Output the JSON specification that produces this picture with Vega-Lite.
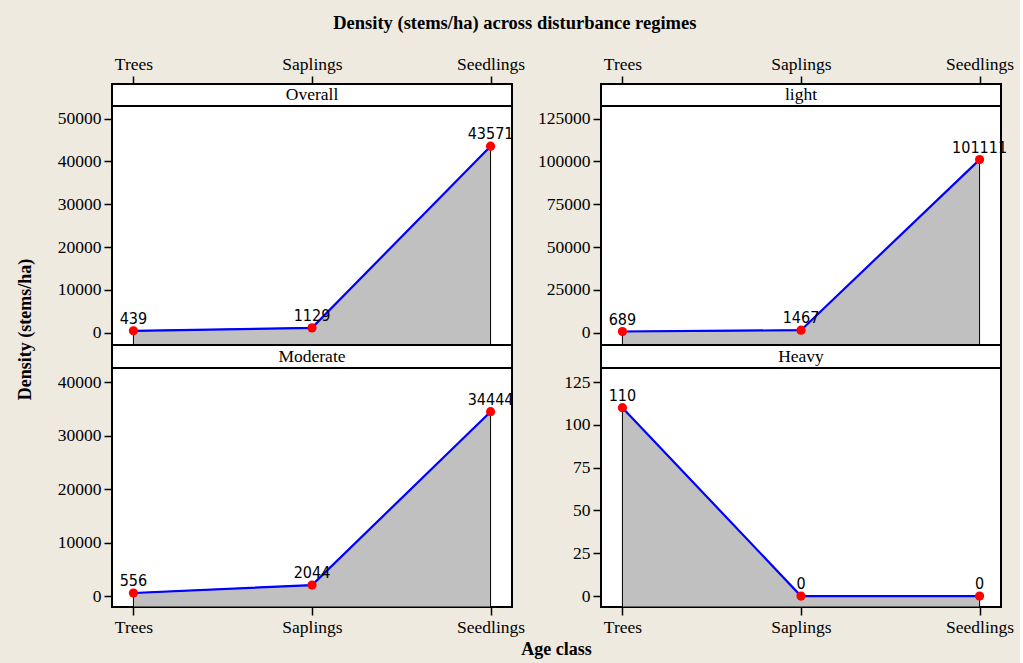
{
  "$schema": "https://vega.github.io/schema/vega-lite/v6.json",
  "background": "#eeeae0",
  "padding": {"left": 15, "top": 13, "right": 5, "bottom": 5},
  "title": {"text": "Density (stems/ha) across disturbance regimes", "font": "Liberation Serif", "fontSize": 18.5, "fontWeight": "bold", "color": "black", "anchor": "middle", "offset": 22},
  "data": {"values": [
    {"panel": "Overall", "age": "Trees", "density": 439},
    {"panel": "Overall", "age": "Saplings", "density": 1129},
    {"panel": "Overall", "age": "Seedlings", "density": 43571},
    {"panel": "light", "age": "Trees", "density": 689},
    {"panel": "light", "age": "Saplings", "density": 1467},
    {"panel": "light", "age": "Seedlings", "density": 101111},
    {"panel": "Moderate", "age": "Trees", "density": 556},
    {"panel": "Moderate", "age": "Saplings", "density": 2044},
    {"panel": "Moderate", "age": "Seedlings", "density": 34444},
    {"panel": "Heavy", "age": "Trees", "density": 110},
    {"panel": "Heavy", "age": "Saplings", "density": 0},
    {"panel": "Heavy", "age": "Seedlings", "density": 0}
  ]},
  "columns": 2,
  "bounds": "flush",
  "spacing": {"row": 0, "column": 89},
  "concat": [
    {
      "width": 400, "height": 22,
      "transform": [{"filter": "datum.panel == 'Overall' && datum.age == 'Saplings'"}],
      "mark": {"type": "text", "font": "Liberation Serif", "fontSize": 17.5, "color": "black"},
      "encoding": {
        "x": {"field": "age", "type": "ordinal", "sort": ["Trees", "Saplings", "Seedlings"], "scale": {"type": "point", "domain": ["Trees", "Saplings", "Seedlings"], "padding": 0.12}, "axis": {"orient": "top", "title": null, "labelAngle": 0}},
        "text": {"field": "panel"}
      }
    },
    {
      "width": 400, "height": 22,
      "transform": [{"filter": "datum.panel == 'light' && datum.age == 'Saplings'"}],
      "mark": {"type": "text", "font": "Liberation Serif", "fontSize": 17.5, "color": "black"},
      "encoding": {
        "x": {"field": "age", "type": "ordinal", "sort": ["Trees", "Saplings", "Seedlings"], "scale": {"type": "point", "domain": ["Trees", "Saplings", "Seedlings"], "padding": 0.12}, "axis": {"orient": "top", "title": null, "labelAngle": 0}},
        "text": {"field": "panel"}
      }
    },
    {
      "width": 400, "height": 239,
      "transform": [{"filter": "datum.panel == 'Overall'"}],
      "encoding": {
        "x": {"field": "age", "type": "ordinal", "sort": ["Trees", "Saplings", "Seedlings"], "scale": {"type": "point", "domain": ["Trees", "Saplings", "Seedlings"], "padding": 0.12}, "axis": null},
        "y": {"field": "density", "type": "quantitative", "scale": {"domain": [-2874, 52967], "nice": false, "zero": false}, "axis": {"values": [0, 10000, 20000, 30000, 40000, 50000], "format": "d", "title": "Density (stems/ha)", "titleFont": "Liberation Serif", "titleFontSize": 18, "titleFontWeight": "bold", "titleColor": "black", "titleAngle": -90, "titleAlign": "center", "titleBaseline": "middle", "titleX": -87, "titleY": 223}}
      },
      "layer": [
        {"mark": {"type": "area", "fill": "#c0c0c0", "stroke": "black", "strokeWidth": 1}, "encoding": {"y2": {"datum": -2874}}},
        {"mark": {"type": "line", "color": "#0000ff", "strokeWidth": 2.2}},
        {"mark": {"type": "point", "filled": true, "color": "#ff0000", "size": 85, "opacity": 1}},
        {"mark": {"type": "text", "font": "DejaVu Sans Condensed", "fontSize": 16, "color": "black", "baseline": "bottom", "dy": -4}, "encoding": {"text": {"field": "density", "type": "quantitative", "format": "d"}}}
      ]
    },
    {
      "width": 400, "height": 239,
      "transform": [{"filter": "datum.panel == 'light'"}],
      "encoding": {
        "x": {"field": "age", "type": "ordinal", "sort": ["Trees", "Saplings", "Seedlings"], "scale": {"type": "point", "domain": ["Trees", "Saplings", "Seedlings"], "padding": 0.12}, "axis": null},
        "y": {"field": "density", "type": "quantitative", "scale": {"domain": [-7185, 132418], "nice": false, "zero": false}, "axis": {"values": [0, 25000, 50000, 75000, 100000, 125000], "format": "d", "title": null}}
      },
      "layer": [
        {"mark": {"type": "area", "fill": "#c0c0c0", "stroke": "black", "strokeWidth": 1}, "encoding": {"y2": {"datum": -7185}}},
        {"mark": {"type": "line", "color": "#0000ff", "strokeWidth": 2.2}},
        {"mark": {"type": "point", "filled": true, "color": "#ff0000", "size": 85, "opacity": 1}},
        {"mark": {"type": "text", "font": "DejaVu Sans Condensed", "fontSize": 16, "color": "black", "baseline": "bottom", "dy": -4}, "encoding": {"text": {"field": "density", "type": "quantitative", "format": "d"}}}
      ]
    },
    {
      "width": 400, "height": 23,
      "transform": [{"filter": "datum.panel == 'Moderate' && datum.age == 'Saplings'"}],
      "mark": {"type": "text", "font": "Liberation Serif", "fontSize": 17.5, "color": "black"},
      "encoding": {
        "x": {"field": "age", "type": "ordinal", "sort": ["Trees", "Saplings", "Seedlings"], "scale": {"type": "point", "domain": ["Trees", "Saplings", "Seedlings"], "padding": 0.12}, "axis": null},
        "text": {"field": "panel"}
      }
    },
    {
      "width": 400, "height": 23,
      "transform": [{"filter": "datum.panel == 'Heavy' && datum.age == 'Saplings'"}],
      "mark": {"type": "text", "font": "Liberation Serif", "fontSize": 17.5, "color": "black"},
      "encoding": {
        "x": {"field": "age", "type": "ordinal", "sort": ["Trees", "Saplings", "Seedlings"], "scale": {"type": "point", "domain": ["Trees", "Saplings", "Seedlings"], "padding": 0.12}, "axis": null},
        "text": {"field": "panel"}
      }
    },
    {
      "width": 400, "height": 239,
      "transform": [{"filter": "datum.panel == 'Moderate'"}],
      "encoding": {
        "x": {"field": "age", "type": "ordinal", "sort": ["Trees", "Saplings", "Seedlings"], "scale": {"type": "point", "domain": ["Trees", "Saplings", "Seedlings"], "padding": 0.12}, "axis": {"orient": "bottom", "labelAngle": 0, "title": "Age class", "titleFont": "Liberation Serif", "titleFontSize": 18, "titleFontWeight": "bold", "titleColor": "black", "titleX": 444, "titleY": 42, "titleAlign": "center", "titleBaseline": "middle"}},
        "y": {"field": "density", "type": "quantitative", "scale": {"domain": [-2056, 42617], "nice": false, "zero": false}, "axis": {"values": [0, 10000, 20000, 30000, 40000], "format": "d", "title": null}}
      },
      "layer": [
        {"mark": {"type": "area", "fill": "#c0c0c0", "stroke": "black", "strokeWidth": 1}, "encoding": {"y2": {"datum": -2056}}},
        {"mark": {"type": "line", "color": "#0000ff", "strokeWidth": 2.2}},
        {"mark": {"type": "point", "filled": true, "color": "#ff0000", "size": 85, "opacity": 1}},
        {"mark": {"type": "text", "font": "DejaVu Sans Condensed", "fontSize": 16, "color": "black", "baseline": "bottom", "dy": -4}, "encoding": {"text": {"field": "density", "type": "quantitative", "format": "d"}}}
      ]
    },
    {
      "width": 400, "height": 239,
      "transform": [{"filter": "datum.panel == 'Heavy'"}],
      "encoding": {
        "x": {"field": "age", "type": "ordinal", "sort": ["Trees", "Saplings", "Seedlings"], "scale": {"type": "point", "domain": ["Trees", "Saplings", "Seedlings"], "padding": 0.12}, "axis": {"orient": "bottom", "labelAngle": 0, "title": null}},
        "y": {"field": "density", "type": "quantitative", "scale": {"domain": [-6.4, 133.2], "nice": false, "zero": false}, "axis": {"values": [0, 25, 50, 75, 100, 125], "format": "d", "title": null}}
      },
      "layer": [
        {"mark": {"type": "area", "fill": "#c0c0c0", "stroke": "black", "strokeWidth": 1}, "encoding": {"y2": {"datum": -6.4}}},
        {"mark": {"type": "line", "color": "#0000ff", "strokeWidth": 2.2}},
        {"mark": {"type": "point", "filled": true, "color": "#ff0000", "size": 85, "opacity": 1}},
        {"mark": {"type": "text", "font": "DejaVu Sans Condensed", "fontSize": 16, "color": "black", "baseline": "bottom", "dy": -4}, "encoding": {"text": {"field": "density", "type": "quantitative", "format": "d"}}}
      ]
    }
  ],
  "config": {
    "view": {"stroke": "black", "strokeWidth": 2, "fill": "white"},
    "axis": {"domain": false, "grid": false, "ticks": true, "tickColor": "black", "tickWidth": 1.5, "tickSize": 8, "labelFont": "Liberation Serif", "labelFontSize": 17.5, "labelColor": "black", "labelPadding": 3}
  }
}
